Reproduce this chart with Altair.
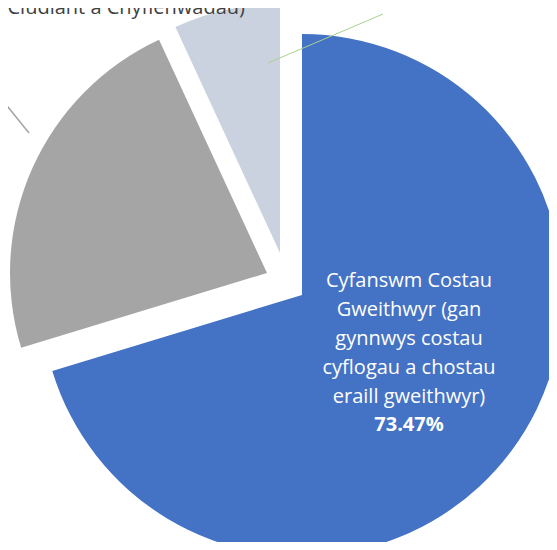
import altair as alt
import pandas as pd

# Slice data (clockwise from 12 o'clock)
categories = ["Cyfanswm Costau Gweithwyr", "Cludiant a Chyflenwadau", "Arall"]
values = [70.3, 22.8, 6.9]
colors = ["#4472C4", "#A5A5A5", "#CBD2DF"]

label_lines = ["Cyfanswm Costau", "Gweithwyr (gan", "gynnwys costau",
               "cyflogau a chostau", "eraill gweithwyr)"]
label_pct = "73.47%"
top_left_label = "Cludiant a Chyflenwadau)"

df = pd.DataFrame({"cat": categories, "value": values, "order": [0, 1, 2]})

base = alt.Chart(df).transform_window(
    end="sum(value)", sort=[alt.SortField("order")]
).transform_calculate(start="datum.end - datum.value")

theta_scale = alt.Scale(domain=[0, sum(values)], range=[0, 6.283185307179586])

# (center x, center y, radius) per slice — explosion offsets
geom = [(294, 287, 261), (259, 265, 257), (272, 245, 249)]

layers = []
for cat, col, (cx, cy, r) in zip(categories, colors, geom):
    layers.append(
        base.transform_filter(alt.datum.cat == cat)
        .mark_arc(radius=r, color=col)
        .encode(
            theta=alt.Theta("start:Q", scale=theta_scale),
            theta2="end:Q",
            x=alt.value(cx),
            y=alt.value(cy),
        )
    )

txt_df = pd.DataFrame({"t": [label_lines]})
label = alt.Chart(txt_df).mark_text(
    font="Open Sans", fontSize=20, color="white", lineHeight=29,
    align="center", baseline="middle"
).encode(text="t", x=alt.value(401), y=alt.value(273))

pct = alt.Chart(pd.DataFrame({"t": [label_pct]})).mark_text(
    font="Open Sans", fontSize=20, color="white", fontWeight="bold",
    align="center", baseline="middle"
).encode(text="t", x=alt.value(401), y=alt.value(417))

tl = alt.Chart(pd.DataFrame({"t": [top_left_label]})).mark_text(
    font="Open Sans", fontSize=20, color="#404040",
    align="right", baseline="alphabetic"
).encode(text="t", x=alt.value(237), y=alt.value(6))

lead1 = alt.Chart(pd.DataFrame({"a": [0]})).mark_rule(
    color="#A9D18E", strokeWidth=1
).encode(x=alt.value(260), y=alt.value(55), x2=alt.value(375), y2=alt.value(6))

lead2 = alt.Chart(pd.DataFrame({"a": [0]})).mark_rule(
    color="#A5A5A5", strokeWidth=1.5
).encode(x=alt.value(-8), y=alt.value(89), x2=alt.value(21), y2=alt.value(125))

chart = alt.layer(*layers, label, pct, tl, lead1, lead2).properties(
    width=541, height=534, padding=0,
    autosize=alt.AutoSizeParams(type="none"),
    background="white",
).configure_view(stroke=None)

chart.save("out.html", embed_options={"renderer": "svg", "actions": False})
